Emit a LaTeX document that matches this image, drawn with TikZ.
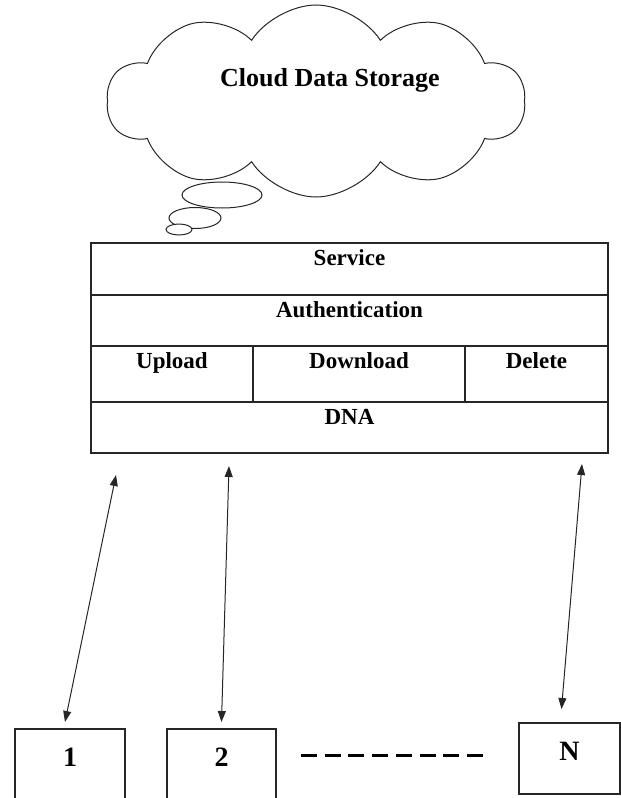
\documentclass[tikz,border=0pt]{standalone}
\usepackage{fontspec}
\setmainfont{Liberation Serif}
\usetikzlibrary{arrows.meta,shapes.symbols,positioning,calc}

\tikzset{
  cell/.style={draw=black!85, line width=1.3pt, inner sep=0pt, outer sep=0pt, anchor=north west,
    text height=22pt, font=\fontsize{23}{26}\selectfont\bfseries},
  client/.style={draw=black!85, line width=1.1pt, inner sep=0pt, outer sep=0pt, anchor=north west,
    text height=37pt, text depth=34pt, font=\fontsize{28}{30}\selectfont\bfseries},
  bubble/.style={draw=black!85, fill=white, line width=1pt},
  link/.style={{Triangle[length=11pt,width=8pt]}-{Triangle[length=11pt,width=8pt]}, line width=1pt, draw=black!85},
}

\begin{document}
\begin{tikzpicture}[x=1pt,y=1pt]
\clip (0,0) rectangle (621,-798);
\pgfmathsetmacro{\breite}{517}

% cloud
\node[cloud, draw=black!85, line width=1pt, cloud puffs=10, cloud puff arc=115, aspect=2.2,
  minimum width=418pt, minimum height=192pt] (storage) at (316,-101) {};
\node[font=\fontsize{26}{30}\selectfont\bfseries] (storagelabel) at (330,-80) {Cloud Data Storage};
\draw[bubble] (222,-195) ellipse [x radius=40, y radius=13];
\draw[bubble] (195,-218) ellipse [x radius=26, y radius=10.5];
\draw[bubble] (179,-229.5) ellipse [x radius=13, y radius=5.5];

% table
\node[cell, minimum width=\breite pt, text depth=30pt] (service) at (91,-243) {Service};
\node[cell, minimum width=\breite pt, text depth=29pt] (auth) at (service.south west) {Authentication};
\node[cell, minimum width=162pt, text depth=34pt] (upload) at (auth.south west) {Upload};
\node[cell, minimum width=212pt, text depth=34pt] (download) at (upload.north east) {Download};
\node[cell, minimum width=143pt, text depth=34pt] (delete) at (download.north east) {Delete};
\node[cell, minimum width=\breite pt, text depth=29pt] (dna) at (upload.south west) {DNA};

% clients
\node[client, minimum width=110pt] (box1) at (15,-729) {1};
\node[client, minimum width=109pt] (box2) at (167,-729) {2};
\node[client, minimum width=101pt] (boxN) at (519,-723) {N};
\draw[line width=3pt, dash pattern=on 16pt off 7.7pt]
  ($(box2.north east)+(25,-26)$) -- ($(boxN.north west)+(-36,-32)$);

\coordinate (up1) at ([shift={(25,-22)}]dna.south west);
\coordinate (up2) at ([shift={(138,-13)}]dna.south west);
\coordinate (upN) at ([shift={(-26,-11)}]dna.south east);
\coordinate (low1) at ([shift={(-5,7)}]box1.north);
\coordinate (low2) at ([shift={(0,7)}]box2.north);
\coordinate (lowN) at ([shift={(-8,14)}]boxN.north);
\draw[link] (up1) -- (low1);
\draw[link] (up2) -- (low2);
\draw[link] (upN) -- (lowN);
\end{tikzpicture}
\end{document}
